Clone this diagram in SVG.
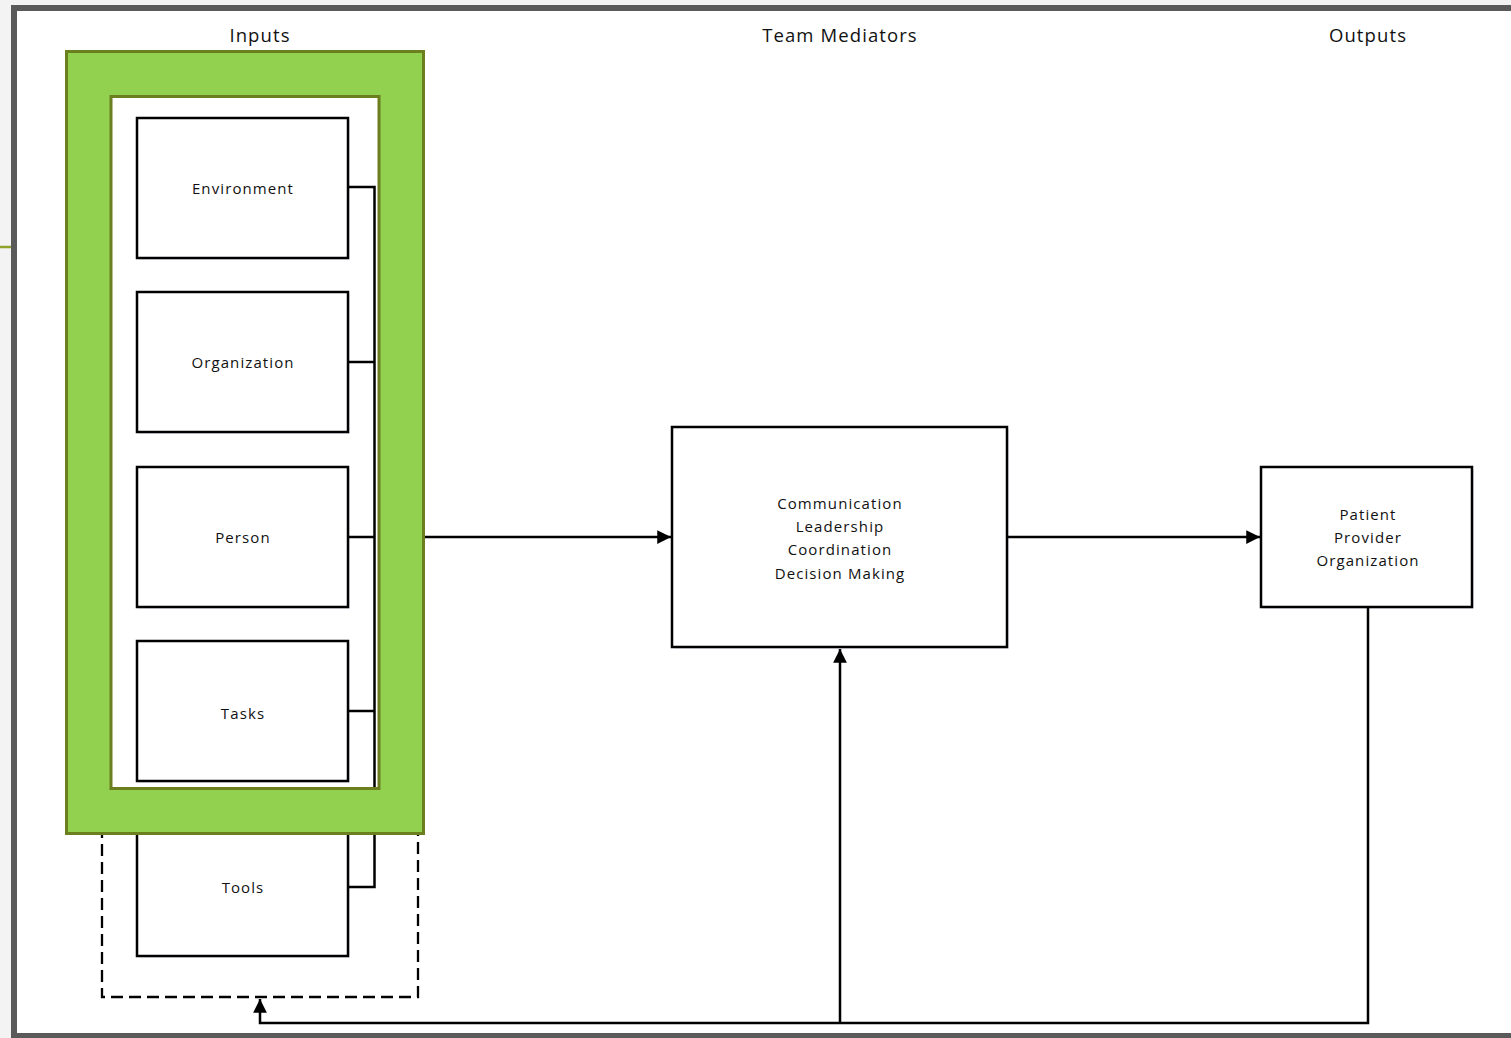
<svg xmlns="http://www.w3.org/2000/svg" width="1511" height="1038" viewBox="0 0 1511 1038">
<defs>
<style>
.box{fill:#fff;stroke:#000;stroke-width:2.5}
.shadow{fill:#e9edf3}
.lbl{font-family:"Open Sans","Liberation Sans",sans-serif;font-size:15px;fill:#111;text-anchor:middle;letter-spacing:1.1px}
.hdr{font-family:"Open Sans","Liberation Sans",sans-serif;font-size:18.5px;fill:#111;text-anchor:middle;letter-spacing:1.1px}
.wire{fill:none;stroke:#000;stroke-width:2.5}
</style>
<marker id="ah" viewBox="0 0 10 10" refX="10" refY="5" markerWidth="5.5" markerHeight="5.5" orient="auto" markerUnits="strokeWidth">
<path d="M0,0 L10,5 L0,10 z" fill="#000"/>
</marker>
</defs>
<rect x="0" y="0" width="1511" height="1038" fill="#f3f3f3"/>
<line x1="0" y1="247" x2="12" y2="247" stroke="#8da32a" stroke-width="2.5"/>
<rect id="frame" x="14" y="8" width="1520" height="1028" fill="#fff" stroke="#5a5a5a" stroke-width="6"/>
<g id="headers">
<text class="hdr" x="260" y="42">Inputs</text>
<text class="hdr" x="840" y="42">Team Mediators</text>
<text class="hdr" x="1368" y="42">Outputs</text>
</g>
<g id="tools-group">
<rect x="102" y="780" width="316" height="217" fill="none" stroke="#000" stroke-width="2.3" stroke-dasharray="12,6"/>
</g>
<g id="tools">
<rect class="shadow" x="139" y="818" width="211" height="140"/>
<rect class="box" x="137" y="816" width="211" height="140"/>
<text class="lbl" x="243" y="893">Tools</text>
</g>
<rect id="inputs-interior" x="111" y="96.5" width="268" height="692" fill="#fff"/>
<g id="environment">
<rect class="shadow" x="139" y="120" width="211" height="140"/>
<rect class="box" x="137" y="118" width="211" height="140"/>
<text class="lbl" x="243" y="194">Environment</text>
</g>
<g id="organization">
<rect class="shadow" x="139" y="294" width="211" height="140"/>
<rect class="box" x="137" y="292" width="211" height="140"/>
<text class="lbl" x="243" y="368">Organization</text>
</g>
<g id="person">
<rect class="shadow" x="139" y="469" width="211" height="140"/>
<rect class="box" x="137" y="467" width="211" height="140"/>
<text class="lbl" x="243" y="543">Person</text>
</g>
<g id="tasks">
<rect class="shadow" x="139" y="643" width="211" height="140"/>
<rect class="box" x="137" y="641" width="211" height="140"/>
<text class="lbl" x="243" y="719">Tasks</text>
</g>
<g id="mediators">
<rect class="shadow" x="674" y="429" width="335" height="220"/>
<rect class="box" x="672" y="427" width="335" height="220"/>
<text class="lbl" x="840" y="509">Communication</text>
<text class="lbl" x="840" y="532">Leadership</text>
<text class="lbl" x="840" y="555">Coordination</text>
<text class="lbl" x="840" y="579">Decision Making</text>
</g>
<g id="outputs">
<rect class="shadow" x="1263" y="469" width="211" height="140"/>
<rect class="box" x="1261" y="467" width="211" height="140"/>
<text class="lbl" x="1368" y="520">Patient</text>
<text class="lbl" x="1368" y="543">Provider</text>
<text class="lbl" x="1368" y="566">Organization</text>
</g>
<g id="connectors">
<path class="wire" d="M348,187 H374.5 V887 H348"/>
<path class="wire" d="M348,362 H374.5"/>
<path class="wire" d="M348,537 H374.5"/>
<path class="wire" d="M348,711 H374.5"/>
<path class="wire" d="M424,537 H671" marker-end="url(#ah)"/>
<path class="wire" d="M1007,537 H1260" marker-end="url(#ah)"/>
<path class="wire" d="M1368,607 V1023 H260 V999" marker-end="url(#ah)"/>
<path class="wire" d="M840,1023 V649" marker-end="url(#ah)"/>
</g>
<g id="inputs">
<path d="M66.5,51.5 H423.5 V833.5 H66.5 Z M111,96.5 V788.5 H379 V96.5 Z" fill="#92d050" fill-rule="evenodd" stroke="#6b7f1e" stroke-width="3"/>
</g>
</svg>
